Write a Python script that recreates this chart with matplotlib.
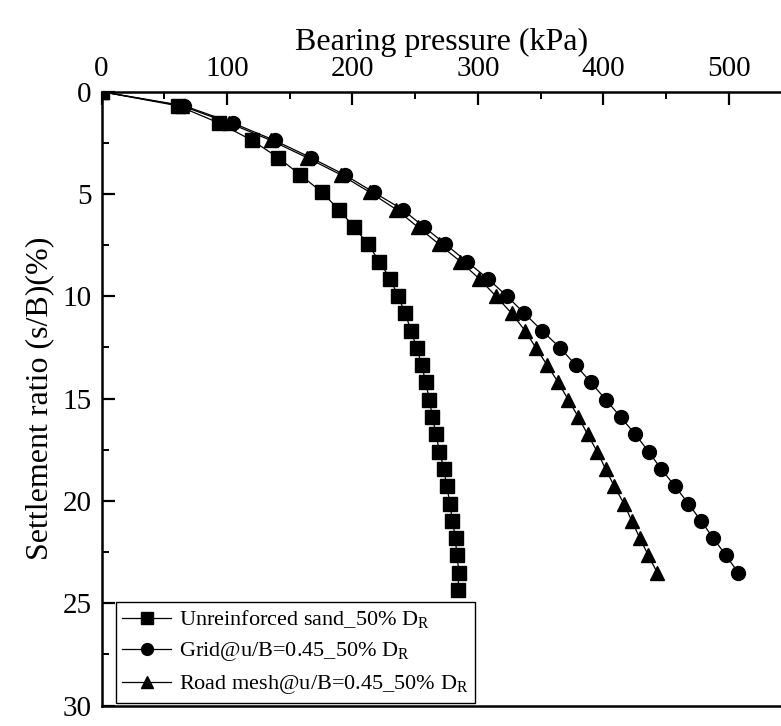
import matplotlib
matplotlib.use("Agg")
import matplotlib.pyplot as plt
from matplotlib.ticker import MultipleLocator

plt.rcParams['font.family'] = ['Liberation Serif', 'DejaVu Serif']
plt.rcParams['mathtext.fontset'] = 'custom'
plt.rcParams['mathtext.rm'] = 'Liberation Serif'
plt.rcParams['mathtext.it'] = 'Liberation Serif:italic'

# Settlement ratio (s/B) (%) for each load step
settlement = [0, 0.69, 1.54, 2.38, 3.23, 4.07, 4.92, 5.76, 6.61, 7.45, 8.30,
              9.14, 9.99, 10.83, 11.68, 12.52, 13.37, 14.21, 15.06, 15.90,
              16.75, 17.59, 18.44, 19.28, 20.13, 20.97, 21.82, 22.66, 23.51, 24.35]

# Bearing pressure (kPa)
unreinforced = [0, 61, 94, 120, 141, 158.5, 175.8, 189, 201.3, 212.3, 221.5,
                230, 236.3, 242, 246.7, 251.2, 255.2, 258.4, 261.3, 263.7,
                266.6, 269.3, 273, 275, 277.8, 279.5, 282.2, 283, 285.1, 283.8]
grid = [0, 66, 105, 138, 167, 194, 217, 240, 257, 274, 291, 308, 323, 337,
        351, 365.5, 378, 390, 402, 413.7, 425.4, 436, 446, 457, 467.6, 477.7,
        487.5, 497.6, 507.4]
road_mesh = [0, 64, 102, 135, 164, 191, 214, 235, 252, 269, 286, 301, 314.3,
             326.8, 337.5, 346.2, 355.2, 364, 372, 380, 387.4, 395, 401.7,
             408.6, 416.3, 422.5, 429, 435.7, 442.9]

labels = ['Unreinforced sand_50% D$_{\\mathrm{R}}$',
          'Grid@u/B=0.45_50% D$_{\\mathrm{R}}$',
          'Road mesh@u/B=0.45_50% D$_{\\mathrm{R}}$']

x_ticks = [0, 100, 200, 300, 400, 500]
y_ticks = [0, 5, 10, 15, 20, 25, 30]

fig = plt.figure(figsize=(7.81, 7.26), dpi=100)
W, H = 781, 726
left_px, top_px, bottom_px = 101.5, 91.7, 705.5
ax = fig.add_axes([left_px / W, 1 - bottom_px / H, 1 - left_px / W,
                   (bottom_px - top_px) / H])

ax.plot(unreinforced, settlement, color='black', lw=0.9, marker='s',
        markersize=9.5, label=labels[0])
ax.plot(grid, settlement[:len(grid)], color='black', lw=0.9, marker='o',
        markersize=10, label=labels[1])
ax.plot(road_mesh, settlement[:len(road_mesh)], color='black', lw=0.9,
        marker='^', markersize=10.5, label=labels[2])

ax.set_xlim(0, 541.5)
ax.set_ylim(30, 0)
ax.xaxis.tick_top()
ax.xaxis.set_label_position('top')
ax.set_xticks(x_ticks)
ax.set_yticks(y_ticks)
ax.xaxis.set_minor_locator(MultipleLocator(50))
ax.yaxis.set_minor_locator(MultipleLocator(2.5))
ax.tick_params(which='major', direction='in', length=9, width=1.6,
               labelsize=21, pad=7, top=True, bottom=False, right=False)
ax.tick_params(which='minor', direction='in', length=5, width=1.4,
               top=True, bottom=False, right=False)

for side in ['top', 'left', 'bottom']:
    ax.spines[side].set_linewidth(1.8)
ax.spines['right'].set_visible(False)

ax.set_xlabel('Bearing pressure (kPa)', fontsize=23, labelpad=4)
ax.set_ylabel('Settlement ratio (s/B)(%)', fontsize=23, labelpad=6)

leg = ax.legend(loc='lower left', bbox_to_anchor=(0.021, 0.004),
                borderaxespad=0, fontsize=16, frameon=True, fancybox=False,
                edgecolor='black', framealpha=1, handlelength=2.2,
                handletextpad=0.35, labelspacing=0.45, borderpad=0.3,
                markerscale=0.85)
leg.get_frame().set_linewidth(1.0)

fig.savefig('out.png', dpi=100)
